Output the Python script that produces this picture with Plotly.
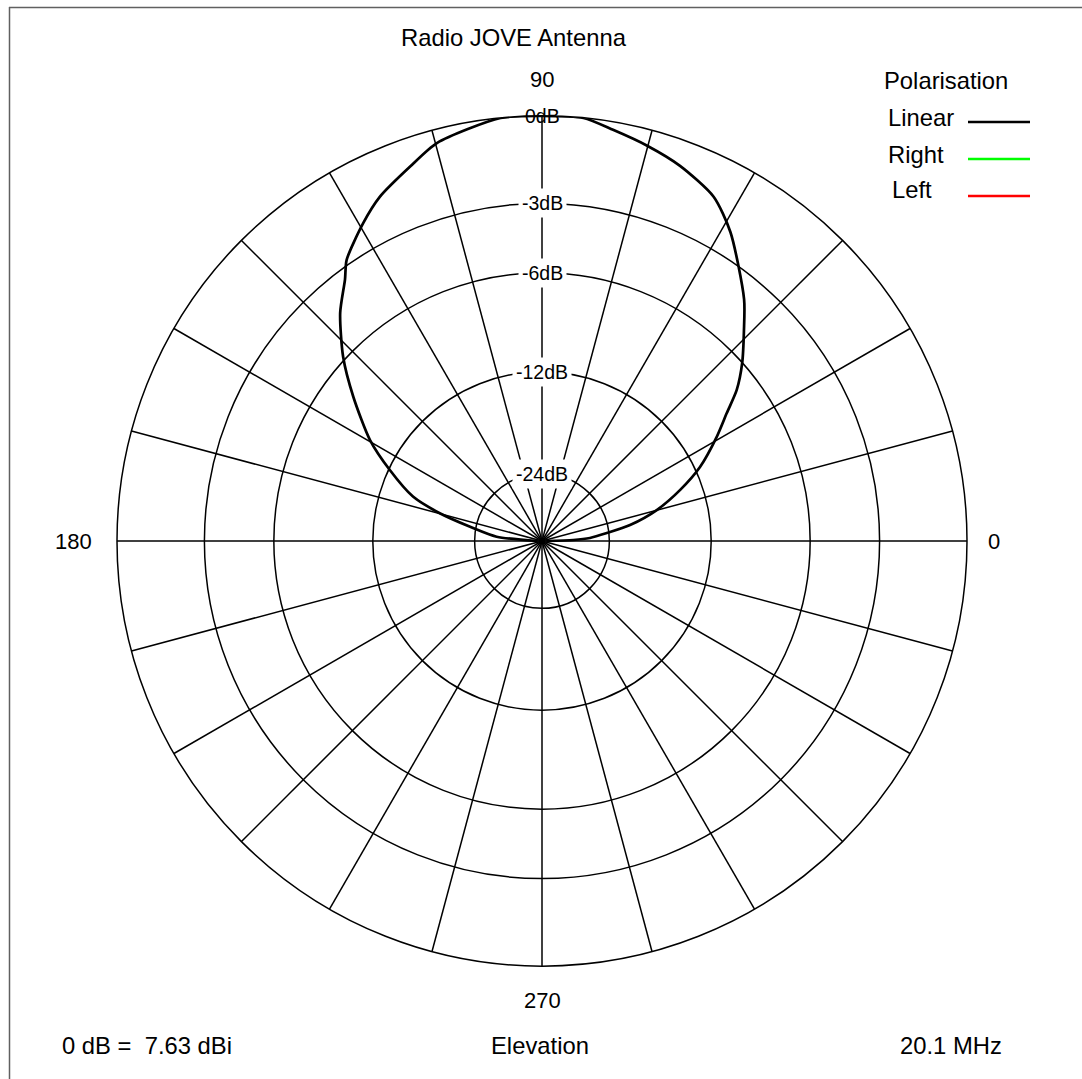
import math
import plotly.graph_objects as go

# ---------------- data ----------------
# Linear polarisation pattern (elevation angle in degrees, relative gain in dB)
theta_deg = [0, 1.8, 3.6, 7.0, 10.3, 15.1, 20.3, 25.1, 30.8, 34.7, 37.8, 41.7,
             46.2, 50.1, 58.6, 63.5, 69.8, 75.1, 80.2, 84.4, 90,
             95.6, 104.8, 109.4, 115.2, 119.4, 124.8, 127.0, 131.5, 137.2,
             142.6, 149.6, 155.0, 161.0, 164.8, 168.8, 174.6, 180]
gain_db = [-60, -34, -28.4, -24.4, -20.3, -16.6, -13.8, -11.6, -9.6, -8.3, -7.1, -6.0,
           -4.9, -3.9, -2.1, -1.3, -0.8, -0.5, -0.24, 0.0, 0.0,
           0.0, -0.42, -0.89, -1.44, -2.0, -2.82, -3.4, -4.34, -5.86,
           -7.58, -9.86, -12.1, -14.8, -18.1, -22.9, -29.1, -60]

ring_db = [-24, -12, -6, -3, 0]
ring_labels = ["-24dB", "-12dB", "-6dB", "-3dB", "0dB"]
angle_ticks = [0, 90, 180, 270]
angle_labels = ["0", "90", "180", "270"]
legend_names = ["Linear", "Right", "Left"]
legend_colors = ["#000000", "#00ff00", "#ff0000"]

title_text = "Radio JOVE Antenna"
footer_left = "0 dB =\u00a0 7.63 dBi"
footer_mid = "Elevation"
footer_right = "20.1 MHz"


def to_r(db):
    return max(0.0, 10 ** (db / 30.0))


r_vals = [to_r(d) for d in gain_db]
ring_r = [to_r(d) for d in ring_db]

W, H = 1082, 1079
FONT = "Liberation Sans, Arial, sans-serif"
BIG = 23.8
GRID_W = 1.5


def px(x):
    return x / W


def py(y):
    return 1 - y / H


dom_x = [px(117), px(967)]
dom_y = [py(966), py(116)]

fig = go.Figure()

fig.add_trace(go.Scatterpolar(
    r=r_vals, theta=theta_deg, mode="lines",
    line=dict(color="black", width=2.7, shape="spline", smoothing=0.7),
    name="Linear", showlegend=False, hoverinfo="skip"))
for name, col in zip(legend_names[1:], legend_colors[1:]):
    fig.add_trace(go.Scatterpolar(r=[], theta=[], mode="lines",
                                  line=dict(color=col, width=2.6),
                                  name=name, showlegend=False))

# invisible cartesian overlay sharing the polar frame (for labels)
fig.add_trace(go.Scatter(x=[0], y=[0], mode="markers", marker=dict(opacity=0),
                         showlegend=False, hoverinfo="skip"))

fig.update_layout(
    width=W, height=H,
    margin=dict(l=0, r=0, t=0, b=0),
    paper_bgcolor="white",
    plot_bgcolor="rgba(0,0,0,0)",
    showlegend=False,
    font=dict(family=FONT, color="black", size=22),
    polar=dict(
        domain=dict(x=dom_x, y=dom_y),
        bgcolor="white",
        radialaxis=dict(range=[0, 1], tickvals=ring_r, showticklabels=False,
                        ticks="", showline=False, gridcolor="black", gridwidth=GRID_W),
        angularaxis=dict(rotation=0, direction="counterclockwise", dtick=15,
                         showticklabels=False, ticks="", showline=True,
                         linecolor="black", linewidth=GRID_W,
                         gridcolor="black", gridwidth=GRID_W),
    ),
    xaxis=dict(domain=dom_x, range=[-1, 1], visible=False, fixedrange=True),
    yaxis=dict(domain=dom_y, range=[-1, 1], visible=False, fixedrange=True),
)

ann = []
# ring labels
for rv, lab, db in zip(ring_r, ring_labels, ring_db):
    ann.append(dict(x=0, y=rv, xref="x", yref="y", text=lab, showarrow=False,
                    xanchor="center", yanchor="middle",
                    font=dict(size=19.5),
                    bgcolor=None if db == 0 else "white", borderpad=3))
# angle labels
shifts = {0: (27, 0), 90: (0, 36), 180: (-44, 0), 270: (0, -34)}
for a, lab in zip(angle_ticks, angle_labels):
    xs, ys = shifts[a]
    ann.append(dict(x=round(math.cos(math.radians(a)), 6), y=round(math.sin(math.radians(a)), 6),
                    xref="x", yref="y", text=lab, showarrow=False,
                    xanchor="center", yanchor="middle",
                    xshift=xs, yshift=ys, font=dict(size=22)))


def paper_text(x, y, text, anchor="center"):
    return dict(x=px(x), y=py(y), xref="paper", yref="paper", text=text,
                showarrow=False, xanchor=anchor, yanchor="middle",
                font=dict(size=BIG))


# title & footer
ann.append(paper_text(514, 38, title_text))
ann.append(paper_text(147, 1045, footer_left))
ann.append(paper_text(540, 1045, footer_mid))
ann.append(paper_text(951, 1045, footer_right))
# legend
ann.append(paper_text(946, 80, "Polarisation"))
leg_y = [118, 155, 190]
leg_x = [886, 886, 890]
line_y = [122, 159, 196]
shapes = []
for name, col, ly, lx, lny in zip(legend_names, legend_colors, leg_y, leg_x, line_y):
    ann.append(paper_text(lx, ly, name, anchor="left"))
    shapes.append(dict(type="line", xref="paper", yref="paper",
                       x0=px(968), x1=px(1030), y0=py(lny), y1=py(lny),
                       line=dict(color=col, width=2.6)))
# frame (top and left only)
shapes.append(dict(type="line", xref="paper", yref="paper", x0=px(9), x1=1,
                   y0=py(7.5), y1=py(7.5), line=dict(color="#606060", width=1.5)))
shapes.append(dict(type="line", xref="paper", yref="paper", x0=px(9.5), x1=px(9.5),
                   y0=py(7), y1=0, line=dict(color="#606060", width=1.5)))

fig.update_layout(annotations=ann, shapes=shapes)
fig.write_html("out.html",
               config={"displayModeBar": False, "staticPlot": True},
               post_script="document.body.style.margin='0px';"
                           "document.body.style.overflow='hidden';")
